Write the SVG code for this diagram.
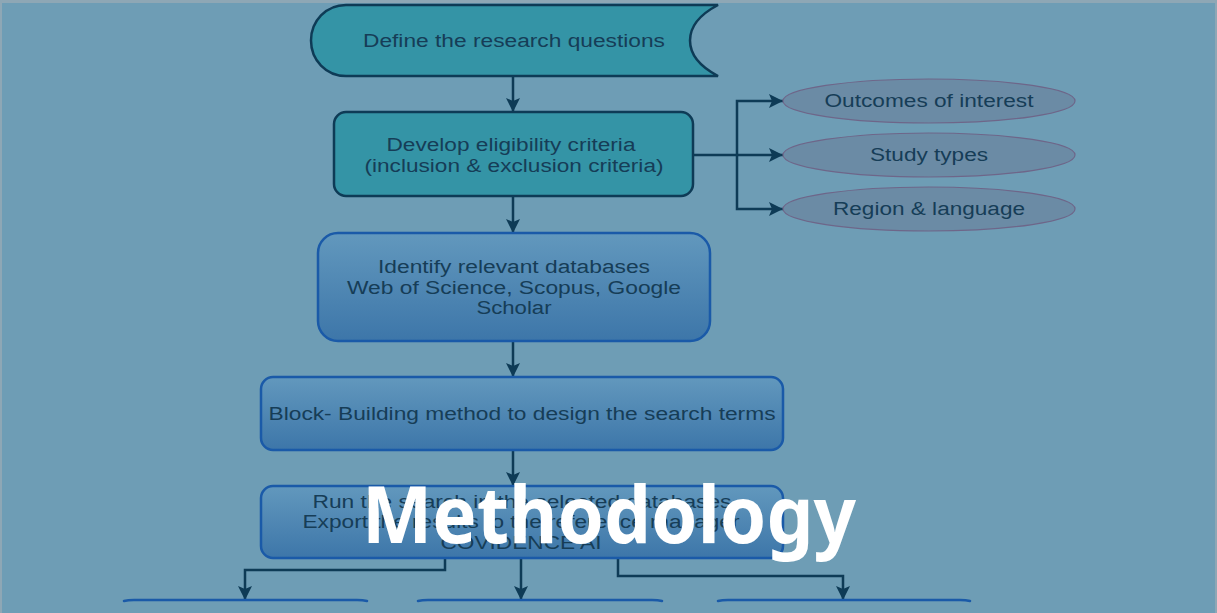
<svg xmlns="http://www.w3.org/2000/svg" width="1217" height="613" viewBox="0 0 1217 613">
<style>
.t{font-family:"Liberation Sans",Arial,sans-serif;font-size:18px;fill:#163d57;text-anchor:middle}
.teal{fill:#3494a6;stroke:#0e3b56;stroke-width:2.5}
.blue{fill:url(#bg);stroke:#1a5aa8;stroke-width:2.5}
.edge{fill:none;stroke:#1a5aa8;stroke-width:2.5;stroke-linecap:round}
.ell{fill:#6b8ba5;stroke:#6e6689;stroke-width:1.2}
.c{fill:none;stroke:#0e3b56;stroke-width:2.5}
.ca{fill:none;stroke:#0e3b56;stroke-width:2.5;marker-end:url(#ah)}
.title{font-family:"Noto Sans","Open Sans",sans-serif;font-weight:700;font-size:78px;fill:#ffffff;text-anchor:middle}
</style>
<defs>
<linearGradient id="bg" x1="0" y1="0" x2="0" y2="1">
<stop offset="0" stop-color="#6298bd"/>
<stop offset="1" stop-color="#3d76a9"/>
</linearGradient>
<marker id="ah" markerUnits="userSpaceOnUse" markerWidth="16" markerHeight="14" refX="14" refY="7" orient="auto">
<path d="M0,0 L14,7 L0,14 L3,7 Z" fill="#0e3b56"/>
</marker>
</defs>
<rect width="1217" height="613" fill="#6e9db5"/>
<rect x="0" y="0" width="1217" height="3" fill="#8ea7b5"/>
<rect x="0" y="0" width="2" height="613" fill="#8ea7b5"/>
<rect x="1215" y="0" width="2" height="613" fill="#8ea7b5"/>

<g id="connectors">
<path class="ca" d="M513,77 V112"/>
<path class="ca" d="M513,197 V233"/>
<path class="ca" d="M513,342 V377"/>
<path class="ca" d="M513,451 V486"/>
<path class="c" d="M694,155 H737"/>
<path class="ca" d="M737,155 V101 H783"/>
<path class="ca" d="M737,155 H783"/>
<path class="ca" d="M737,155 V209 H783"/>
<path class="ca" d="M445,559 V570 H245 V600"/>
<path class="ca" d="M521,559 V600"/>
<path class="ca" d="M618,559 V576 H843 V600"/>
</g>

<g id="n1">
<path class="teal" d="M346,5 H718 C697,16 690,28 690,40.5 C690,53 697,65 718,76 H346 C326,76 311,60 311,40.5 C311,21 326,5 346,5 Z"/>
<text class="t" x="514" y="47" textLength="302" lengthAdjust="spacingAndGlyphs">Define the research questions</text>
</g>
<g id="n2">
<rect class="teal" x="334" y="112" width="359" height="84" rx="12"/>
<text class="t" x="511" y="151" textLength="249" lengthAdjust="spacingAndGlyphs">Develop eligibility criteria</text>
<text class="t" x="514" y="172" textLength="299" lengthAdjust="spacingAndGlyphs">(inclusion &amp; exclusion criteria)</text>
</g>
<g id="e1">
<ellipse class="ell" cx="929" cy="101" rx="146" ry="22"/>
<text class="t" x="929" y="107" textLength="209" lengthAdjust="spacingAndGlyphs">Outcomes of interest</text>
</g>
<g id="e2">
<ellipse class="ell" cx="929" cy="155" rx="146" ry="22"/>
<text class="t" x="929" y="161" textLength="118" lengthAdjust="spacingAndGlyphs">Study types</text>
</g>
<g id="e3">
<ellipse class="ell" cx="929" cy="209" rx="146" ry="22"/>
<text class="t" x="929" y="215" textLength="192" lengthAdjust="spacingAndGlyphs">Region &amp; language</text>
</g>
<g id="n3">
<rect class="blue" x="318" y="233" width="392" height="108" rx="20"/>
<text class="t" x="514" y="273" textLength="272" lengthAdjust="spacingAndGlyphs">Identify relevant databases</text>
<text class="t" x="514" y="294" textLength="334" lengthAdjust="spacingAndGlyphs">Web of Science, Scopus, Google</text>
<text class="t" x="514" y="314" textLength="75" lengthAdjust="spacingAndGlyphs">Scholar</text>
</g>
<g id="n4">
<rect class="blue" x="261" y="377" width="522" height="73" rx="12"/>
<text class="t" x="522" y="420" textLength="507" lengthAdjust="spacingAndGlyphs">Block- Building method to design the search terms</text>
</g>
<g id="n5">
<rect class="blue" x="261" y="486" width="522" height="72" rx="12"/>
<text class="t" x="522" y="508" textLength="419" lengthAdjust="spacingAndGlyphs">Run the search in the selected databases</text>
<text class="t" x="521" y="528" textLength="437" lengthAdjust="spacingAndGlyphs">Export the results to the reference manager</text>
<text class="t" x="521" y="549" textLength="161" lengthAdjust="spacingAndGlyphs">COVIDENCE AI</text>
</g>
<g id="n6">
<path class="edge" d="M124,601 Q128,600 134,600 H357 Q363,600 367,601"/>
</g>
<g id="n7">
<path class="edge" d="M418,601 Q422,600 428,600 H652 Q658,600 662,601"/>
</g>
<g id="n8">
<path class="edge" d="M718,601 Q722,600 728,600 H960 Q966,600 970,601"/>
</g>

<text class="title" x="609" y="543" textLength="494" lengthAdjust="spacingAndGlyphs">Methodology</text>
</svg>
